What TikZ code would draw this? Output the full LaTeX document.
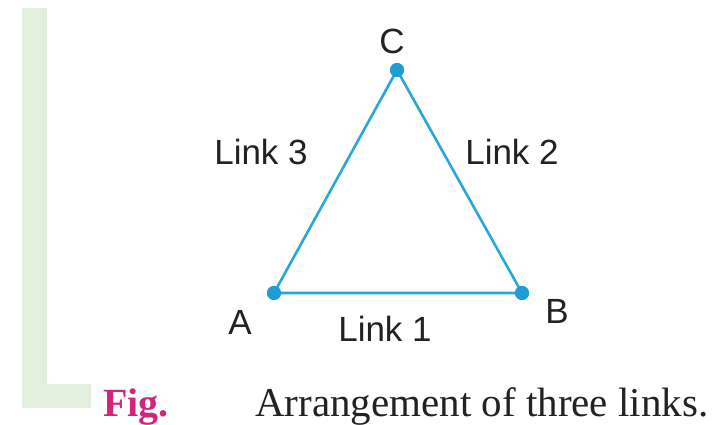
\documentclass[tikz,border=0pt]{standalone}
\usepackage{fontspec}
\setmainfont{Liberation Serif}
\setsansfont{Liberation Sans}
\usetikzlibrary{positioning}
\definecolor{linkblue}{HTML}{2AA7DA}
\definecolor{jointblue}{HTML}{1E9CD8}
\definecolor{figpink}{HTML}{D2247C}
\definecolor{bargreen}{HTML}{E2EFDD}
\definecolor{inkgray}{HTML}{222222}
\tikzset{
  joint/.style={circle, fill=jointblue, inner sep=0pt, minimum size=14pt},
  link/.style={draw=linkblue, line width=2.6pt},
  lbl/.style={font=\sffamily\fontsize{35}{40}\selectfont, text=inkgray, inner sep=0pt},
  captxt/.style={font=\rmfamily\fontsize{41}{44}\selectfont, text=inkgray, inner sep=0pt, anchor=base west},
}

\begin{document}
\begin{tikzpicture}[x=1pt, y=-1pt]
  \useasboundingbox (0,0) rectangle (715,425);
  % margin bar
  \fill[bargreen] (22,8) rectangle (47,408);
  \fill[bargreen] (47,384) rectangle (91,408);
  % links and joints
  \node[joint] (jC) at (397,70) {};
  \node[joint] (jA) at (274,293) {};
  \node[joint] (jB) at (522,293) {};
  \draw[link] (jA.center) -- (jB.center) -- (jC.center) -- cycle;
  \node[joint] at (jA) {};
  \node[joint] at (jB) {};
  \node[joint] at (jC) {};
  \node[lbl] (lC) at (392,41) {C};
  \node[lbl] (lA) at (240,322) {A};
  \node[lbl] (lB) at (557,311) {B};
  \node[lbl] (l3) at (261,152) {Link 3};
  \node[lbl] (l2) at (512,152) {Link 2};
  \node[lbl] (l1) at (385,329) {Link 1};
  % caption
  \node[captxt, text=figpink, font=\rmfamily\bfseries\fontsize{40}{44}\selectfont] (fig) at (103,416) {Fig.};
  \node[captxt] (ttl) at (255,416) {Arrangement of three links.};
\end{tikzpicture}
\end{document}
